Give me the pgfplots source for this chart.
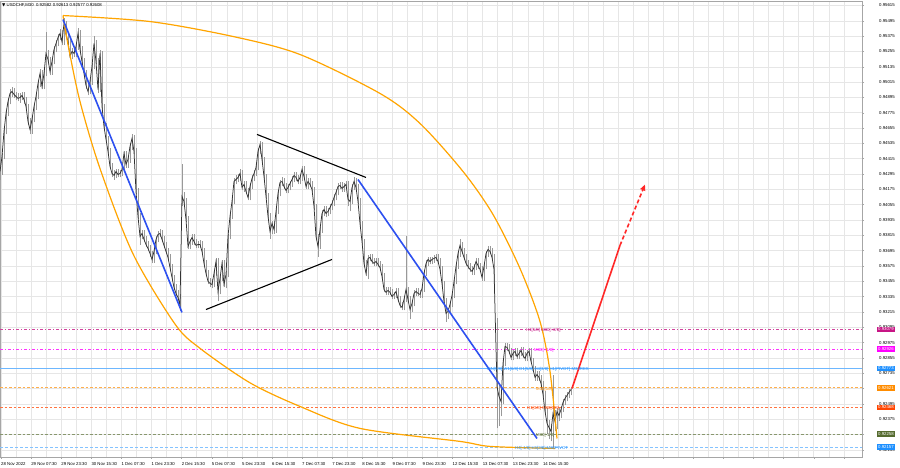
\documentclass[border=0pt]{standalone}
\usepackage{pgfplots}
\pgfplotsset{compat=1.18}
\usepackage{pgfplotstable}
\usepackage{fontspec}
\setmainfont{Liberation Sans}
\newfontfamily\symfont{DejaVu Sans}
\usetikzlibrary{arrows.meta}

\definecolor{mtblue}{RGB}{45,80,240}
\definecolor{mtorange}{RGB}{255,165,0}
\definecolor{mtred}{RGB}{255,40,40}
\definecolor{lvviolet}{RGB}{199,21,133}
\definecolor{lvmagenta}{RGB}{255,0,255}
\definecolor{lvblue}{RGB}{30,144,255}
\definecolor{lvorange}{RGB}{255,140,0}
\definecolor{lvorred}{RGB}{255,69,0}
\definecolor{lvolive}{RGB}{85,107,47}
\definecolor{gridgray}{RGB}{230,230,230}
\newcommand{\mtfont}{\fontsize{4.3}{5}\selectfont}

% USDCHF M30 bars: x (bar position), high, low, close
\pgfplotstableread{
x h l c
0 0.94393 0.94252 0.94315
2 0.94456 0.94291 0.94432
4 0.94652 0.94409 0.94628
6 0.94793 0.94605 0.94769
8 0.94887 0.94746 0.94863
10 0.94957 0.94840 0.94926
12 0.94973 0.94902 0.94941
14 0.94965 0.94887 0.94918
16 0.94941 0.94871 0.94902
18 0.94926 0.94863 0.94887
20 0.94926 0.94855 0.94894
22 0.94941 0.94871 0.94910
24 0.94934 0.94847 0.94879
26 0.94902 0.94793 0.94824
28 0.94847 0.94675 0.94706
30 0.94730 0.94605 0.94644
32 0.94746 0.94612 0.94722
34 0.94847 0.94699 0.94824
36 0.94926 0.94800 0.94902
38 0.95027 0.94879 0.95004
40 0.95114 0.94980 0.95082
42 0.95106 0.94957 0.94980
44 0.95114 0.94957 0.95082
46 0.95411 0.95059 0.95239
48 0.95270 0.95161 0.95192
50 0.95215 0.95067 0.95098
52 0.95200 0.95074 0.95176
54 0.95294 0.95153 0.95270
56 0.95341 0.95247 0.95317
58 0.95388 0.95294 0.95364
60 0.95427 0.95341 0.95395
62 0.95419 0.95302 0.95333
64 0.95513 0.95309 0.95474
66 0.95497 0.95364 0.95388
68 0.95411 0.95302 0.95333
70 0.95356 0.95192 0.95215
72 0.95278 0.95192 0.95255
74 0.95278 0.95208 0.95239
76 0.95317 0.95215 0.95294
78 0.95435 0.95270 0.95395
80 0.95419 0.95247 0.95270
82 0.95294 0.95153 0.95176
84 0.95200 0.95059 0.95082
86 0.95106 0.94957 0.94988
88 0.95012 0.94910 0.94941
90 0.95043 0.94918 0.95020
92 0.95161 0.94996 0.95137
94 0.95372 0.95114 0.95317
96 0.95341 0.95153 0.95176
98 0.95200 0.94926 0.94957
100 0.95270 0.94934 0.95239
102 0.95262 0.94800 0.94824
104 0.94847 0.94644 0.94667
106 0.94691 0.94542 0.94566
108 0.94589 0.94448 0.94472
110 0.94495 0.94331 0.94354
112 0.94378 0.94268 0.94299
114 0.94323 0.94252 0.94284
116 0.94338 0.94260 0.94315
118 0.94338 0.94268 0.94291
120 0.94323 0.94268 0.94299
122 0.94354 0.94276 0.94331
124 0.94479 0.94307 0.94456
126 0.94479 0.94346 0.94370
128 0.94432 0.94346 0.94409
130 0.94534 0.94385 0.94511
132 0.94612 0.94487 0.94573
134 0.94597 0.94448 0.94472
136 0.94495 0.94135 0.94158
138 0.94182 0.93939 0.93963
140 0.93986 0.93743 0.93806
142 0.93853 0.93783 0.93829
144 0.93853 0.93759 0.93783
146 0.93806 0.93720 0.93743
148 0.93767 0.93689 0.93712
150 0.93736 0.93649 0.93673
152 0.93696 0.93595 0.93626
154 0.93712 0.93602 0.93689
156 0.93806 0.93665 0.93783
158 0.93845 0.93759 0.93822
160 0.93861 0.93798 0.93829
162 0.93853 0.93759 0.93783
164 0.93806 0.93712 0.93736
166 0.93759 0.93665 0.93689
168 0.93712 0.93618 0.93642
170 0.93665 0.93540 0.93563
172 0.93587 0.93461 0.93485
174 0.93508 0.93383 0.93407
176 0.93430 0.93336 0.93360
178 0.93383 0.93305 0.93328
180 0.93352 0.93219 0.93266
182 0.94370 0.94041 0.94119
184 0.94158 0.94049 0.94080
186 0.94104 0.93916 0.93939
188 0.93963 0.93704 0.93728
190 0.93790 0.93704 0.93767
192 0.93822 0.93743 0.93798
194 0.93822 0.93743 0.93767
196 0.93790 0.93712 0.93736
198 0.93767 0.93712 0.93743
200 0.93775 0.93712 0.93743
202 0.93767 0.93665 0.93689
204 0.93712 0.93571 0.93595
206 0.93618 0.93493 0.93516
208 0.93540 0.93430 0.93454
210 0.93477 0.93407 0.93438
212 0.93469 0.93399 0.93430
214 0.93540 0.93407 0.93516
216 0.93634 0.93493 0.93610
218 0.93634 0.93297 0.93375
220 0.93501 0.93352 0.93477
222 0.93618 0.93454 0.93595
224 0.93618 0.93407 0.93430
226 0.93532 0.93399 0.93508
228 0.93829 0.93485 0.93806
230 0.93986 0.93783 0.93963
232 0.94104 0.93939 0.94080
234 0.94260 0.94057 0.94237
236 0.94284 0.94213 0.94252
238 0.94299 0.94229 0.94268
240 0.94331 0.94244 0.94299
242 0.94323 0.94166 0.94190
244 0.94237 0.94158 0.94213
246 0.94237 0.94135 0.94158
248 0.94182 0.94088 0.94111
250 0.94221 0.94088 0.94197
252 0.94284 0.94174 0.94260
254 0.94323 0.94237 0.94299
256 0.94370 0.94276 0.94346
258 0.94495 0.94323 0.94472
260 0.94550 0.94448 0.94526
262 0.94542 0.94385 0.94409
264 0.94432 0.94252 0.94276
266 0.94299 0.94096 0.94119
268 0.94143 0.93939 0.93963
270 0.93986 0.93790 0.93845
272 0.93931 0.93822 0.93908
274 0.93931 0.93829 0.93861
276 0.94025 0.93837 0.94002
278 0.94166 0.93978 0.94143
280 0.94252 0.94119 0.94229
282 0.94268 0.94205 0.94237
284 0.94260 0.94174 0.94197
286 0.94221 0.94143 0.94166
288 0.94213 0.94143 0.94190
290 0.94244 0.94166 0.94221
292 0.94276 0.94197 0.94252
294 0.94307 0.94229 0.94284
296 0.94307 0.94237 0.94268
298 0.94291 0.94213 0.94237
300 0.94291 0.94213 0.94268
302 0.94354 0.94244 0.94331
304 0.94354 0.94252 0.94276
306 0.94299 0.94174 0.94197
308 0.94260 0.94174 0.94237
310 0.94260 0.94190 0.94213
312 0.94237 0.94151 0.94174
314 0.94197 0.94017 0.94041
316 0.94064 0.93783 0.93806
318 0.93829 0.93649 0.93728
320 0.93884 0.93704 0.93861
322 0.94010 0.93837 0.93986
324 0.94041 0.93963 0.94017
326 0.94041 0.93955 0.93986
328 0.94025 0.93963 0.94002
330 0.94057 0.93978 0.94033
332 0.94088 0.94010 0.94064
334 0.94135 0.94041 0.94111
336 0.94174 0.94088 0.94151
338 0.94221 0.94127 0.94197
340 0.94229 0.94174 0.94205
342 0.94229 0.94158 0.94182
344 0.94221 0.94158 0.94197
346 0.94237 0.94174 0.94213
348 0.94237 0.94041 0.94096
350 0.94119 0.94002 0.94080
352 0.94213 0.94057 0.94190
354 0.94268 0.94166 0.94237
356 0.94260 0.94166 0.94190
358 0.94213 0.94057 0.94080
360 0.94104 0.93884 0.93908
362 0.93931 0.93743 0.93767
364 0.93790 0.93571 0.93595
366 0.93618 0.93493 0.93516
368 0.93657 0.93469 0.93634
370 0.93665 0.93610 0.93642
372 0.93665 0.93587 0.93610
374 0.93634 0.93571 0.93595
376 0.93634 0.93571 0.93610
378 0.93634 0.93563 0.93587
380 0.93610 0.93532 0.93563
382 0.93587 0.93469 0.93493
384 0.93516 0.93368 0.93391
386 0.93414 0.93344 0.93368
388 0.93407 0.93344 0.93383
390 0.93407 0.93344 0.93368
392 0.93391 0.93313 0.93336
394 0.93375 0.93313 0.93352
396 0.93399 0.93328 0.93375
398 0.93399 0.93289 0.93313
400 0.93336 0.93242 0.93266
402 0.93289 0.93227 0.93250
404 0.93336 0.93227 0.93313
406 0.93806 0.93289 0.93391
408 0.93414 0.93289 0.93313
410 0.93336 0.93156 0.93234
412 0.93305 0.93211 0.93281
414 0.93383 0.93258 0.93360
416 0.93399 0.93336 0.93375
418 0.93399 0.93336 0.93360
420 0.93383 0.93328 0.93352
422 0.93422 0.93328 0.93399
424 0.93540 0.93375 0.93516
426 0.93618 0.93493 0.93595
428 0.93649 0.93571 0.93626
430 0.93649 0.93587 0.93610
432 0.93649 0.93587 0.93626
434 0.93657 0.93602 0.93634
436 0.93665 0.93610 0.93642
438 0.93665 0.93587 0.93610
440 0.93634 0.93524 0.93548
442 0.93571 0.93414 0.93438
444 0.93461 0.93274 0.93297
446 0.93321 0.93140 0.93203
448 0.93242 0.93156 0.93219
450 0.93297 0.93195 0.93274
452 0.93368 0.93250 0.93344
454 0.93477 0.93321 0.93454
456 0.93595 0.93430 0.93571
458 0.93696 0.93548 0.93673
460 0.93783 0.93649 0.93736
462 0.93759 0.93665 0.93689
464 0.93712 0.93618 0.93642
466 0.93665 0.93571 0.93595
468 0.93618 0.93548 0.93571
470 0.93595 0.93524 0.93548
472 0.93571 0.93508 0.93532
474 0.93587 0.93508 0.93563
476 0.93634 0.93540 0.93610
478 0.93634 0.93555 0.93579
480 0.93602 0.93524 0.93548
482 0.93571 0.93461 0.93485
484 0.93595 0.93461 0.93571
486 0.93696 0.93548 0.93673
488 0.93728 0.93649 0.93704
490 0.93728 0.93665 0.93689
492 0.93712 0.93618 0.93642
494 0.93665 0.93414 0.93548
497 0.93164 0.92303 0.92631
499 0.92655 0.92318 0.92553
501 0.92577 0.92397 0.92514
503 0.92835 0.92491 0.92812
505 0.92968 0.92788 0.92945
507 0.92968 0.92906 0.92937
509 0.92960 0.92882 0.92906
511 0.92929 0.92835 0.92859
513 0.92913 0.92835 0.92890
515 0.92929 0.92866 0.92906
517 0.92929 0.92843 0.92866
519 0.92913 0.92843 0.92890
521 0.92937 0.92866 0.92913
523 0.92937 0.92851 0.92874
525 0.92898 0.92827 0.92851
527 0.92913 0.92827 0.92890
529 0.92929 0.92866 0.92906
531 0.92929 0.92804 0.92827
533 0.92851 0.92741 0.92765
535 0.92788 0.92678 0.92702
537 0.92749 0.92678 0.92725
539 0.92749 0.92678 0.92702
541 0.92725 0.92631 0.92655
543 0.92678 0.92545 0.92569
545 0.92592 0.92412 0.92436
547 0.92459 0.92256 0.92342
549 0.92365 0.92217 0.92310
551 0.92334 0.92201 0.92279
553 0.92725 0.92146 0.92420
555 0.92444 0.92279 0.92357
557 0.92459 0.92295 0.92436
559 0.92459 0.92357 0.92404
561 0.92475 0.92381 0.92451
563 0.92530 0.92428 0.92506
565 0.92561 0.92483 0.92538
567 0.92585 0.92514 0.92561
569 0.92608 0.92538 0.92585
571 0.92631 0.92561 0.92608
}\ohlc

\begin{document}
\begin{tikzpicture}
\useasboundingbox (0,0) rectangle (900pt,468pt);
\fill[white] (0,0) rectangle (900pt,468pt);
\begin{axis}[
    at={(0pt,11pt)}, anchor=south west,
    scale only axis, width=862pt, height=456pt,
    xmin=0, xmax=862, ymin=0.92079, ymax=0.95650,
    clip mode=individual,
    axis line style={draw=gray!70, line width=0.5pt},
    xtick={1,31.1,61.2,91.3,121.4,151.5,181.6,211.7,241.8,271.9,302,332.1,362.2,392.3,422.4,452.5,482.6,512.7,542.8,572.9,603,633.1,663.2,693.3,723.4,753.5,783.6,813.7,843.8},
    xticklabels={28 Nov 2022,29 Nov 07:30,29 Nov 23:30,30 Nov 15:30,1 Dec 07:30,1 Dec 23:30,2 Dec 15:30,5 Dec 07:30,5 Dec 23:30,6 Dec 15:30,7 Dec 07:30,7 Dec 23:30,8 Dec 15:30,9 Dec 07:30,9 Dec 23:30,12 Dec 15:30,13 Dec 07:30,13 Dec 23:30,14 Dec 15:30,{},{},{},{},{},{},{},{},{},{}},
    minor x tick num=1,
    ytick={0.92135,0.92255,0.92375,0.92495,0.92615,0.92735,0.92855,0.92975,0.93095,0.93215,0.93335,0.93455,0.93575,0.93695,0.93815,0.93935,0.94055,0.94175,0.94295,0.94415,0.94535,0.94655,0.94775,0.94895,0.95015,0.95135,0.95255,0.95375,0.95495,0.95615},
    scaled y ticks=false,
    yticklabel pos=right,
    xtick pos=bottom, ytick pos=right,
    tick align=outside, major tick length=2pt, minor tick length=0pt,
    tick style={draw=gray!70, line width=0.4pt},
    grid=both,
    major grid style={draw=gridgray, line width=0.5pt},
    minor grid style={draw=gridgray, line width=0.5pt},
    xticklabel style={font=\mtfont, anchor=north west, inner sep=0pt, yshift=-3pt},
    yticklabel style={font=\mtfont, anchor=west, inner sep=0pt, xshift=15pt,
        /pgf/number format/fixed, /pgf/number format/fixed zerofill,
        /pgf/number format/precision=5, /pgf/number format/assume math mode=true},
]

% level lines
\addplot[lvviolet!80, line width=0.6pt, dash pattern=on 3pt off 2pt on 1pt off 2pt] coordinates {(0,0.93079) (862,0.93079)};
\addplot[lvmagenta!80, line width=0.6pt, dash pattern=on 3pt off 2pt on 1pt off 2pt] coordinates {(0,0.92926) (862,0.92926)};
\addplot[lvblue!65, line width=0.6pt] coordinates {(0,0.92773) (862,0.92773)};
\addplot[lvorange!70, line width=0.6pt, dash pattern=on 2.5pt off 2pt] coordinates {(0,0.92621) (862,0.92621)};
\addplot[lvorred!75, line width=0.6pt, dash pattern=on 2.5pt off 2pt] coordinates {(0,0.92468) (862,0.92468)};
\addplot[lvolive!70, line width=0.6pt, dash pattern=on 2.5pt off 2pt] coordinates {(0,0.92258) (862,0.92258)};
\addplot[lvblue!55, line width=0.6pt, dash pattern=on 3pt off 2pt] coordinates {(0,0.92157) (862,0.92157)};

% candles: wicks and closes
\addplot[draw=none, mark=none, error bars/.cd, y dir=plus, y explicit, error mark=none,
    error bar style={draw=gray!80, line width=0.7pt}]
    table[x=x, y=l, y error plus expr=\thisrow{h}-\thisrow{l}] {\ohlc};
\addplot[black!80, line width=0.75pt, mark=none] table[x=x, y=c] {\ohlc};

% orange arcs
\addplot[mtorange, line width=1.2pt, smooth, mark=none] coordinates {
(63,0.95536) (150,0.95489) (233,0.95372) (300,0.95231) (380,0.94926) (420,0.94691)
(463,0.94315) (493,0.93978) (520,0.93555) (540,0.93140) (550,0.92749) (557,0.92224)};
\addplot[mtorange, line width=1.2pt, smooth, mark=none] coordinates {
(63,0.95536) (68,0.95309) (80,0.94863) (100,0.94338) (133,0.93670) (175,0.93120)
(200,0.92930) (250,0.92660) (300,0.92475) (360,0.92303) (460,0.92201) (490,0.92162) (555,0.92146)};

% trend lines
\addplot[mtblue, line width=1.6pt, mark=none] coordinates {(63,0.95505) (182,0.93211)};
\addplot[mtblue, line width=1.6pt, mark=none] coordinates {(358,0.94252) (537,0.92224)};
\addplot[black, line width=1.1pt, mark=none] coordinates {(257,0.94605) (366,0.94268)};
\addplot[black, line width=1.1pt, mark=none] coordinates {(206,0.93234) (332,0.93626)};

% projection arrow
\addplot[mtred, line width=1.6pt, mark=none] coordinates {(572,0.92616) (620,0.93736)};
\addplot[mtred, line width=1.6pt, mark=none, dash pattern=on 4pt off 2.5pt, -{Triangle[length=6pt,width=5pt]}] coordinates {(620,0.93736) (645,0.94213)};

% level texts
\node[anchor=west, font=\mtfont, text=lvviolet, inner sep=0pt] at (axis cs:526,0.93079) [yshift=-1.5pt] {H1[5/8] M30[+2/8]};
\node[anchor=west, font=\mtfont, text=lvmagenta, inner sep=0pt] at (axis cs:534,0.92926) [yshift=-1.5pt] {M30[+1/8]};
\node[anchor=west, font=\mtfont, text=lvblue, inner sep=0pt] at (axis cs:487,0.92773) [yshift=-1.5pt] {MN[5/8] W1[6/8] D1[5/8] H4[3/8] H1[PIVOT] M30RES};
\node[anchor=west, font=\mtfont, text=lvorange, inner sep=0pt] at (axis cs:536,0.92621) [yshift=-1.5pt] {M30[1/8]};
\node[anchor=west, font=\mtfont, text=lvorred, inner sep=0pt] at (axis cs:527,0.92468) [yshift=-1.5pt] {H1[3/8] M30[0/8]};
\node[anchor=west, font=\mtfont, text=lvolive, inner sep=0pt] at (axis cs:536,0.92258) [yshift=-1.5pt] {M30[-1/8]};
\node[anchor=west, font=\mtfont, text=lvblue, inner sep=0pt] at (axis cs:515,0.92157) [yshift=-1.5pt] {H4[-1/8] H1[2/8] M30PIVOT};

% price boxes on the right scale
\node[anchor=west, font=\mtfont, fill=lvviolet, text=white, inner xsep=1pt, inner ysep=1.2pt] at (axis cs:877,0.93079) {0.93079};
\node[anchor=west, font=\mtfont, fill=lvmagenta, text=white, inner xsep=1pt, inner ysep=1.2pt] at (axis cs:877,0.92926) {0.92926};
\node[anchor=west, font=\mtfont, fill=lvblue, text=white, inner xsep=1pt, inner ysep=1.2pt] at (axis cs:877,0.92773) {0.92773};
\node[anchor=west, font=\mtfont, fill=lvorange, text=white, inner xsep=1pt, inner ysep=1.2pt] at (axis cs:877,0.92621) {0.92621};
\node[anchor=west, font=\mtfont, fill=lvorred, text=white, inner xsep=1pt, inner ysep=1.2pt] at (axis cs:877,0.92468) {0.92468};
\node[anchor=west, font=\mtfont, fill=lvolive, text=white, inner xsep=1pt, inner ysep=1.2pt] at (axis cs:877,0.92258) {0.92258};
\node[anchor=west, font=\mtfont, fill=lvblue, text=white, inner xsep=1pt, inner ysep=1.2pt] at (axis cs:877,0.92157) {0.92157};

% header
\node[anchor=north west, font=\mtfont, inner sep=0pt] at (rel axis cs:0,1) [xshift=2pt, yshift=-2pt]
    {{\symfont ▼}\ USDCHF,M30\ \ 0.92582 0.92613 0.92577 0.92608};
\end{axis}
\end{tikzpicture}
\end{document}
